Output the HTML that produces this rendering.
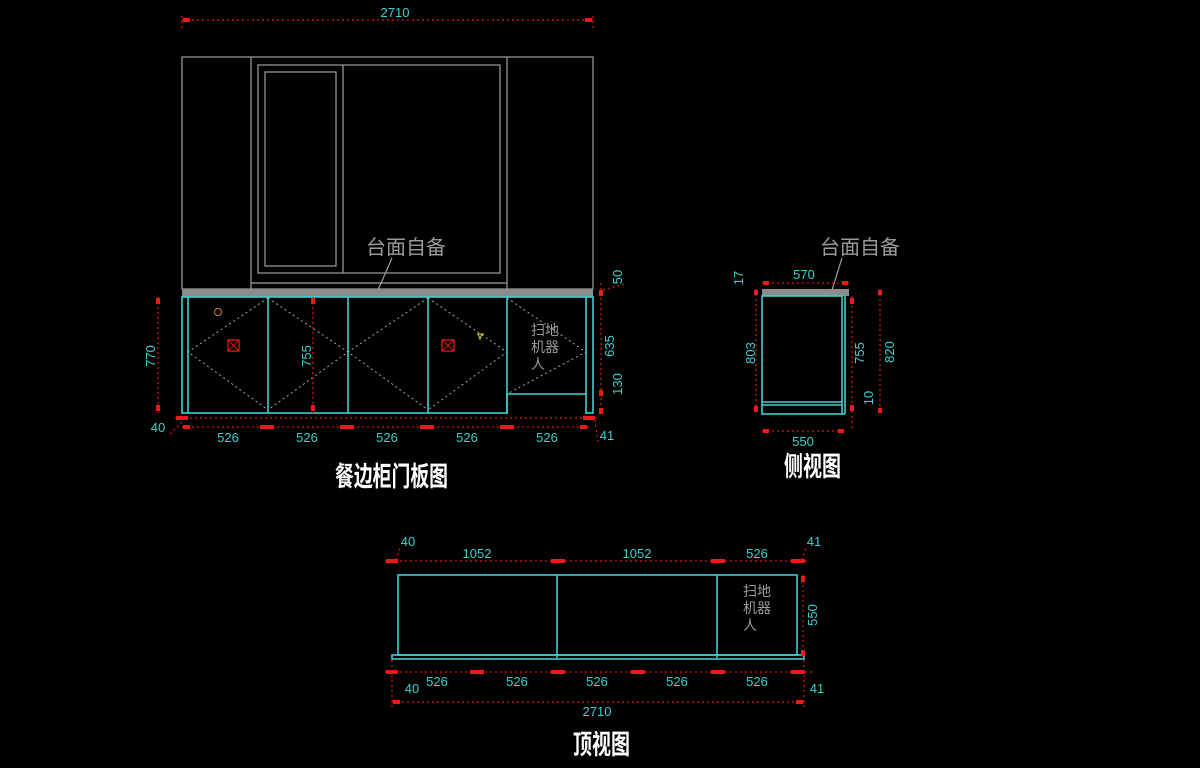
<!DOCTYPE html>
<html><head><meta charset="utf-8"><style>
html,body{margin:0;padding:0;background:#000;width:1200px;height:768px;overflow:hidden}
svg{display:block}
.c{stroke:#3fd0d0;stroke-width:1.6;fill:none}
.g{stroke:#a0a0a0;stroke-width:1.2;fill:none}
.d{stroke:#e01818;stroke-width:1.2;stroke-dasharray:2 3;fill:none}
.dg{stroke:#a8a8a8;stroke-width:1;stroke-dasharray:2 3;fill:none}
.t{fill:#3fd0d0;font-family:"Liberation Sans",sans-serif;font-size:13px;text-anchor:middle}
.cn{fill:#9a9a9a;font-family:"Liberation Sans","Noto Sans CJK SC",sans-serif;text-anchor:middle}
.ti{fill:#fff;font-family:"Noto Sans CJK SC","WenQuanYi Zen Hei",sans-serif;font-size:27px;font-weight:bold}
.a{fill:#f01818}
</style></head><body>
<svg width="1200" height="768" viewBox="0 0 1200 768">
<!-- top 2710 -->
<line class="d" x1="182" y1="20" x2="593" y2="20"/>
<line class="d" x1="182" y1="16" x2="182" y2="28"/><line class="d" x1="593" y1="16" x2="593" y2="28"/>
<rect class="a" x="183" y="18" width="7" height="4"/><rect class="a" x="585" y="18" width="7" height="4"/>
<text class="t" x="395" y="17">2710</text>
<!-- wall -->
<rect class="g" x="182" y="57" width="411" height="232"/>
<polyline class="g" points="251,289 251,57"/><polyline class="g" points="507,289 507,57"/>
<line class="g" x1="251" y1="283" x2="507" y2="283"/>
<rect class="g" x="258" y="65" width="242" height="208"/>
<rect class="g" x="265" y="72" width="71" height="194"/>
<line class="g" x1="343" y1="65" x2="343" y2="273"/>
<text class="cn" x="406" y="254" font-size="20">台面自备</text>
<line class="g" x1="392" y1="258" x2="378" y2="290"/>
<!-- countertop -->
<rect x="182" y="289" width="411" height="8" fill="#8c8c8c"/>
<!-- cabinet -->
<rect class="c" x="182" y="297" width="411" height="116"/>
<line class="c" x1="188" y1="297" x2="188" y2="413"/>
<line class="c" x1="268" y1="297" x2="268" y2="413"/>
<line class="c" x1="348" y1="297" x2="348" y2="413"/>
<line class="c" x1="428" y1="297" x2="428" y2="413"/>
<line class="c" x1="507" y1="297" x2="507" y2="413"/>
<line class="c" x1="586" y1="297" x2="586" y2="413"/>
<line class="c" x1="507" y1="394" x2="586" y2="394"/>
<rect x="508" y="395" width="77" height="20" fill="#000"/>
<line class="c" x1="507" y1="394" x2="507" y2="413"/>
<polyline class="dg" points="268,298 188,352 268,410"/>
<polyline class="dg" points="268,298 348,352 268,410"/>
<polyline class="dg" points="428,298 348,352 428,410"/>
<polyline class="dg" points="428,298 507,352 428,410"/>
<polyline class="dg" points="507,298 586,352 507,394"/>
<rect x="228" y="340" width="11" height="11" fill="none" stroke="#e01818" stroke-width="1.3"/>
<path d="M228 340L239 351M239 340L228 351" stroke="#e01818"/>
<rect x="442" y="340" width="12" height="11" fill="none" stroke="#e01818" stroke-width="1.3"/>
<path d="M442 340L454 351M454 340L442 351" stroke="#e01818"/>
<circle cx="218" cy="312" r="3.5" fill="none" stroke="#d08040"/>
<path d="M477 334h7M478 334l2 5l2-5" stroke="#e8e030" fill="none"/>
<text class="cn" x="545" y="335" font-size="14">扫地</text>
<text class="cn" x="545" y="352" font-size="14">机器</text>
<text class="cn" x="538" y="369" font-size="14">人</text>
<!-- left dims -->
<line class="d" x1="158" y1="297" x2="158" y2="413"/>
<rect class="a" x="156" y="298" width="4" height="6"/><rect class="a" x="156" y="405" width="4" height="6"/>
<text class="t" transform="translate(155,356) rotate(-90)">770</text>
<line class="d" x1="313" y1="297" x2="313" y2="413"/>
<rect class="a" x="311" y="298" width="4" height="6"/><rect class="a" x="311" y="405" width="4" height="6"/>
<text class="t" transform="translate(311,356) rotate(-90)">755</text>
<!-- right dims -->
<line class="d" x1="601" y1="283" x2="601" y2="413"/>
<rect class="a" x="599" y="290" width="4" height="6"/><rect class="a" x="599" y="390" width="4" height="6"/><rect class="a" x="599" y="408" width="4" height="6"/>
<text class="t" transform="translate(622,277) rotate(-90)">50</text>
<text class="t" transform="translate(614,346) rotate(-90)">635</text>
<text class="t" transform="translate(622,384) rotate(-90)">130</text>
<line class="d" x1="603" y1="290" x2="625" y2="284"/>
<!-- bottom dims -->
<line class="d" x1="175" y1="418" x2="600" y2="418"/>
<line class="d" x1="182" y1="427" x2="590" y2="427"/>
<g class="a"><rect x="183" y="425" width="7" height="4"/><rect x="260" y="425" width="14" height="4"/><rect x="340" y="425" width="14" height="4"/><rect x="420" y="425" width="14" height="4"/><rect x="500" y="425" width="14" height="4"/><rect x="580" y="425" width="7" height="4"/><rect x="176" y="416" width="12" height="4"/><rect x="583" y="416" width="12" height="4"/></g>
<text class="t" x="228" y="442">526</text><text class="t" x="307" y="442">526</text><text class="t" x="387" y="442">526</text><text class="t" x="467" y="442">526</text><text class="t" x="547" y="442">526</text>
<text class="t" x="158" y="432">40</text><line class="d" x1="170" y1="434" x2="184" y2="420"/>
<text class="t" x="607" y="440">41</text><line class="d" x1="595" y1="420" x2="598" y2="442"/>
<text class="ti" x="335" y="486" textLength="113" lengthAdjust="spacingAndGlyphs">餐边柜门板图</text>
<!-- side view -->
<rect x="762" y="289" width="87" height="7" fill="#8c8c8c"/>
<rect class="c" x="762" y="296" width="80" height="118"/>
<line class="c" x1="845" y1="296" x2="845" y2="414"/>
<line class="c" x1="842" y1="414" x2="845" y2="414"/>
<line class="c" x1="762" y1="402" x2="842" y2="402"/>
<line class="c" x1="762" y1="405" x2="842" y2="405"/>
<text class="cn" x="860" y="254" font-size="20">台面自备</text>
<line class="g" x1="842" y1="258" x2="832" y2="290"/>
<line class="d" x1="762" y1="283" x2="850" y2="283"/>
<rect class="a" x="763" y="281" width="6" height="4"/><rect class="a" x="842" y="281" width="6" height="4"/>
<text class="t" x="804" y="279">570</text>
<text class="t" transform="translate(743,278) rotate(-90)">17</text>
<line class="d" x1="756" y1="289" x2="756" y2="414"/>
<rect class="a" x="754" y="290" width="4" height="5"/><rect class="a" x="754" y="406" width="4" height="6"/>
<text class="t" transform="translate(755,353) rotate(-90)">803</text>
<line class="d" x1="852" y1="296" x2="852" y2="428"/>
<rect class="a" x="850" y="298" width="4" height="6"/><rect class="a" x="850" y="405" width="4" height="6"/>
<text class="t" transform="translate(864,353) rotate(-90)">755</text>
<line class="d" x1="880" y1="289" x2="880" y2="414"/>
<rect class="a" x="878" y="290" width="4" height="5"/><rect class="a" x="878" y="408" width="4" height="5"/>
<text class="t" transform="translate(894,352) rotate(-90)">820</text>
<text class="t" transform="translate(873,398) rotate(-90)">10</text>
<line class="d" x1="762" y1="431" x2="845" y2="431"/>
<rect class="a" x="763" y="429" width="6" height="4"/><rect class="a" x="838" y="429" width="6" height="4"/>
<text class="t" x="803" y="446">550</text>
<text class="ti" x="784" y="476" textLength="57" lengthAdjust="spacingAndGlyphs">侧视图</text>
<!-- top view -->
<line class="d" x1="385" y1="561" x2="810" y2="561"/>
<g class="a"><rect x="386" y="559" width="12" height="4"/><rect x="551" y="559" width="14" height="4"/><rect x="711" y="559" width="14" height="4"/><rect x="791" y="559" width="14" height="4"/></g>
<text class="t" x="477" y="558">1052</text><text class="t" x="637" y="558">1052</text><text class="t" x="757" y="558">526</text>
<text class="t" x="408" y="546">40</text><text class="t" x="814" y="546">41</text>
<line class="d" x1="396" y1="560" x2="400" y2="548"/><line class="d" x1="802" y1="560" x2="806" y2="548"/>
<rect class="c" x="398" y="575" width="399" height="80"/>
<line class="c" x1="557" y1="575" x2="557" y2="658"/>
<line class="c" x1="717" y1="575" x2="717" y2="658"/>
<rect class="c" x="392" y="655" width="412" height="4"/>
<text class="cn" x="757" y="596" font-size="14">扫地</text>
<text class="cn" x="757" y="613" font-size="14">机器</text>
<text class="cn" x="750" y="630" font-size="14">人</text>
<line class="d" x1="803" y1="575" x2="803" y2="658"/>
<rect class="a" x="801" y="576" width="4" height="6"/><rect class="a" x="801" y="650" width="4" height="6"/>
<text class="t" transform="translate(817,615) rotate(-90)">550</text>
<line class="d" x1="385" y1="672" x2="815" y2="672"/>
<g class="a"><rect x="386" y="670" width="12" height="4"/><rect x="470" y="670" width="14" height="4"/><rect x="551" y="670" width="14" height="4"/><rect x="631" y="670" width="14" height="4"/><rect x="711" y="670" width="14" height="4"/><rect x="791" y="670" width="14" height="4"/></g>
<text class="t" x="437" y="686">526</text><text class="t" x="517" y="686">526</text><text class="t" x="597" y="686">526</text><text class="t" x="677" y="686">526</text><text class="t" x="757" y="686">526</text>
<text class="t" x="412" y="693">40</text><text class="t" x="817" y="693">41</text>
<line class="d" x1="392" y1="702" x2="804" y2="702"/>
<rect class="a" x="393" y="700" width="7" height="4"/><rect class="a" x="796" y="700" width="7" height="4"/>
<line class="d" x1="392" y1="660" x2="392" y2="708"/><line class="d" x1="804" y1="660" x2="804" y2="708"/>
<text class="t" x="597" y="716">2710</text>
<text class="ti" x="573" y="754" textLength="57" lengthAdjust="spacingAndGlyphs">顶视图</text>
</svg>
</body></html>
